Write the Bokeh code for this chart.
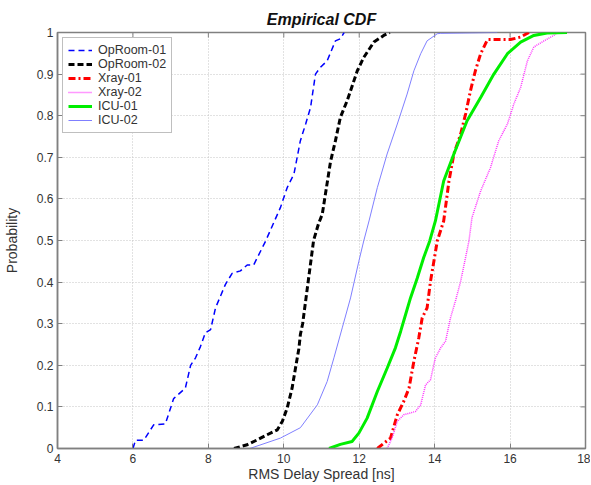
import math
from bokeh.plotting import figure
from bokeh.models import Range1d, Legend, LegendItem, FixedTicker
from bokeh.embed import file_html
from bokeh.resources import INLINE

# ---- data ----
oproom01_x = [6.0, 6.07, 6.29, 6.55, 6.86, 7.08, 7.39, 7.53, 7.66, 7.79, 7.92, 8.06, 8.19, 8.45, 8.63, 8.85, 9.03, 9.2, 9.52,
              9.91, 10.09, 10.27, 10.44, 10.58, 10.71, 10.84, 10.97, 11.15, 11.37, 11.5, 11.6]
oproom01_p = [0.0, 0.02, 0.02, 0.057, 0.059, 0.12, 0.145, 0.2, 0.218, 0.245, 0.278, 0.286, 0.338, 0.394, 0.421, 0.427, 0.441, 0.441, 0.499,
              0.579, 0.627, 0.66, 0.74, 0.78, 0.82, 0.9, 0.916, 0.932, 0.98, 0.985, 1.0]

oproom02_x = [8.68, 9.03, 9.3, 9.56, 9.83, 9.96, 10.09, 10.22, 10.31, 10.4, 10.44, 10.5, 10.79, 10.92, 11.02, 11.24, 11.37,
              11.5, 11.68, 11.95, 12.12, 12.39, 12.65, 12.81]
oproom02_p = [0.0, 0.009, 0.021, 0.033, 0.045, 0.065, 0.097, 0.145, 0.193, 0.24, 0.274, 0.3, 0.5, 0.54, 0.563, 0.69, 0.74,
              0.796, 0.836, 0.908, 0.94, 0.977, 0.993, 1.0]

xray01_x = [12.48, 12.66, 12.83, 13.01, 13.18, 13.32, 13.45, 13.58, 13.67, 13.8, 13.89, 13.98, 14.07, 14.24, 14.38, 14.51,
            14.69, 14.82, 14.95, 15.08, 15.22, 15.4, 16.01, 16.28, 16.5]
xray01_p = [0.0, 0.013, 0.025, 0.081, 0.113, 0.145, 0.21, 0.266, 0.314, 0.338, 0.402, 0.45, 0.499, 0.547, 0.643, 0.708,
            0.756, 0.804, 0.86, 0.908, 0.949, 0.983, 0.983, 0.989, 1.0]

xray02_x = [12.74, 12.87, 13.01, 13.18, 13.49, 13.63, 13.76, 13.89, 14.02, 14.16, 14.29, 14.42, 14.55, 14.69, 14.82, 14.91,
            14.99, 15.22, 15.48, 15.7, 15.93, 16.1, 16.28, 16.46, 16.63, 16.9, 17.16, 17.25]
xray02_p = [0.0, 0.025, 0.065, 0.081, 0.089, 0.105, 0.153, 0.165, 0.218, 0.242, 0.258, 0.314, 0.354, 0.402, 0.459, 0.499,
            0.555, 0.619, 0.675, 0.74, 0.78, 0.828, 0.868, 0.932, 0.965, 0.98, 0.993, 1.0]

icu01_x = [11.2, 11.5, 11.81, 11.99, 12.21, 12.48, 12.74, 12.96, 13.1, 13.23, 13.36, 13.54, 13.71, 13.87, 14.02, 14.24,
           14.51, 14.86, 15.22, 15.57, 15.93, 16.28, 16.63, 16.98, 17.51]
icu01_p = [0.0, 0.01, 0.017, 0.037, 0.073, 0.137, 0.193, 0.242, 0.282, 0.322, 0.362, 0.41, 0.459, 0.499, 0.547, 0.643,
           0.708, 0.788, 0.844, 0.9, 0.949, 0.977, 0.993, 0.999, 1.0]

icu02_x = [9.1, 9.91, 10.44, 10.89, 11.15, 11.33, 11.55, 11.77, 11.99, 12.12, 12.26, 12.48, 12.74, 13.01, 13.27, 13.45,
           13.63, 13.8, 14.07, 14.16, 15.66]
icu02_p = [0.0, 0.025, 0.05, 0.105, 0.161, 0.218, 0.29, 0.362, 0.45, 0.499, 0.547, 0.627, 0.708, 0.78, 0.852, 0.908,
           0.949, 0.98, 0.997, 0.998, 1.0]

x_ticks = [4, 6, 8, 10, 12, 14, 16, 18]
y_ticks = [0, 0.1, 0.2, 0.3, 0.4, 0.5, 0.6, 0.7, 0.8, 0.9, 1.0]
y_labels = {0: "0", 0.1: "0.1", 0.2: "0.2", 0.3: "0.3", 0.4: "0.4", 0.5: "0.5", 0.6: "0.6",
            0.7: "0.7", 0.8: "0.8", 0.9: "0.9", 1.0: "1"}

FONT = "Liberation Sans"
AX = "#808080"
TXT = "#333333"

p = figure(width=590, height=484, output_backend="svg", toolbar_location=None,
           x_range=Range1d(x_ticks[0], x_ticks[-1]), y_range=Range1d(y_ticks[0], y_ticks[-1]),
           min_border_left=57, min_border_right=5, min_border_top=32, min_border_bottom=30)

p.title.text = "Empirical CDF"
p.title.align = "center"
p.title.text_font = FONT
p.title.text_font_style = "bold italic"
p.title.text_font_size = "16px"
p.title.text_color = "#111111"
p.title.offset = 0
p.title.standoff = 10

p.outline_line_color = AX
p.outline_line_width = 1.5

for ax in p.xaxis + p.yaxis:
    ax.axis_line_color = AX
    ax.axis_line_width = 1.5
    ax.major_tick_line_color = AX
    ax.major_tick_in = 5
    ax.major_tick_out = 0
    ax.minor_tick_line_color = None
    ax.major_label_text_font = FONT
    ax.major_label_text_font_size = "12px"
    ax.major_label_text_color = TXT
    ax.axis_label_text_font = FONT
    ax.axis_label_text_font_size = "14px"
    ax.axis_label_text_font_style = "normal"
    ax.axis_label_text_color = TXT

p.xaxis.ticker = FixedTicker(ticks=x_ticks)
p.yaxis.ticker = FixedTicker(ticks=y_ticks)
p.yaxis.major_label_overrides = y_labels
p.xaxis.axis_label = "RMS Delay Spread [ns]"
p.yaxis.axis_label = "Probability"
p.xaxis.major_label_standoff = 5
p.yaxis.major_label_standoff = 4
p.xaxis.axis_label_standoff = 0
p.yaxis.axis_label_standoff = 14

p.xgrid.ticker = FixedTicker(ticks=x_ticks)
p.ygrid.ticker = FixedTicker(ticks=y_ticks)
for g in (p.xgrid[0], p.ygrid[0]):
    g.grid_line_color = "#c4c4c4"
    g.grid_line_dash = "1 2"
    g.grid_line_width = 1

# inward ticks on top and right edges (half of each dash is clipped by the frame)
p.scatter(x_ticks, [y_ticks[-1]] * len(x_ticks), marker="dash", size=10, angle=math.pi / 2,
          line_color=AX, line_width=1)
p.scatter([x_ticks[-1]] * len(y_ticks), y_ticks, marker="dash", size=10,
          line_color=AX, line_width=1)

r1 = p.line(oproom01_x, oproom01_p, line_color="#0000ff", line_width=1.5, line_dash="6 4")
r2 = p.line(oproom02_x, oproom02_p, line_color="#000000", line_width=3, line_dash="6 3")
r3 = p.line(xray01_x, xray01_p, line_color="#ff0000", line_width=3, line_dash="7 3 2 3")
r4 = p.line(xray02_x, xray02_p, line_color="#ff33ff", line_width=1.5, line_dash="1 1")
r5 = p.line(icu01_x, icu01_p, line_color="#00ee00", line_width=3)
r6 = p.line(icu02_x, icu02_p, line_color="#7f7fff", line_width=1)

legend = Legend(items=[
    LegendItem(label="OpRoom-01", renderers=[r1]),
    LegendItem(label="OpRoom-02", renderers=[r2]),
    LegendItem(label="Xray-01", renderers=[r3]),
    LegendItem(label="Xray-02", renderers=[r4]),
    LegendItem(label="ICU-01", renderers=[r5]),
    LegendItem(label="ICU-02", renderers=[r6]),
], location="top_left")
legend.label_text_font = FONT
legend.label_text_font_size = "12.5px"
legend.label_text_color = TXT
legend.label_height = 14
legend.glyph_height = 14
legend.glyph_width = 24
legend.label_standoff = 6
legend.spacing = 0
legend.padding = 5
legend.margin = 5
legend.border_line_color = AX
legend.border_line_width = 1.5
legend.background_fill_color = "white"
legend.background_fill_alpha = 1
p.add_layout(legend, "center")

open("out.html", "w").write(file_html(p, INLINE))
